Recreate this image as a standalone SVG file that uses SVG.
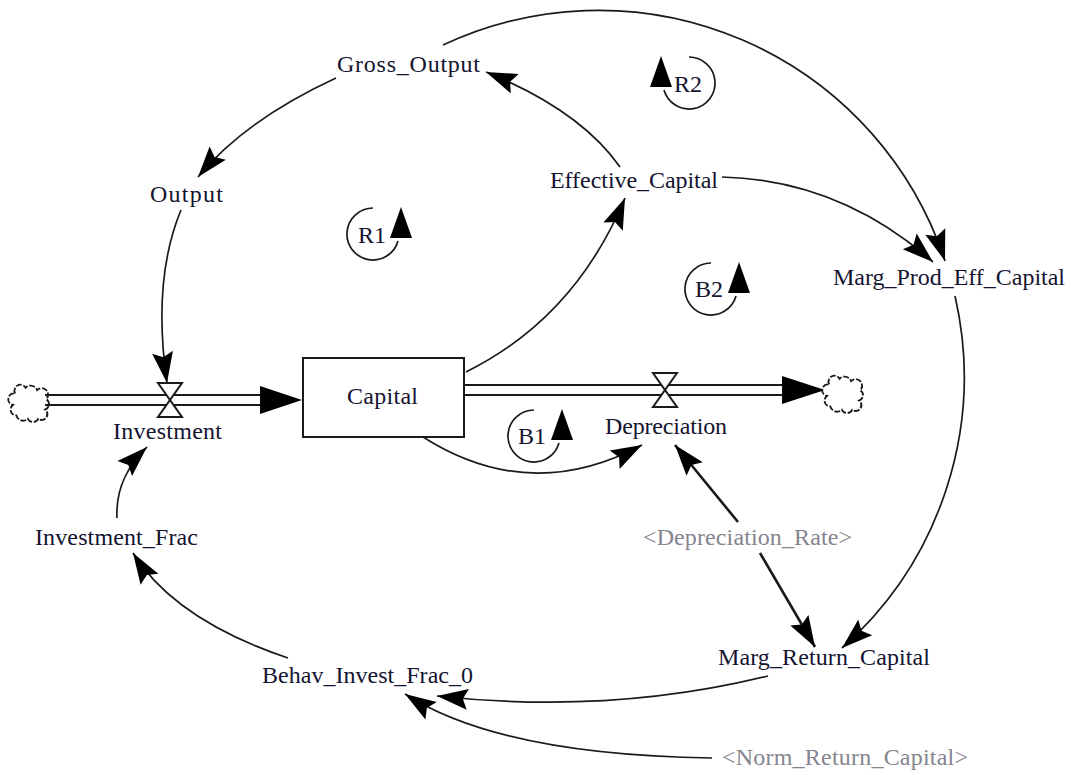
<svg xmlns="http://www.w3.org/2000/svg" width="1071" height="775" viewBox="0 0 1071 775">
<style>
  text { font-family: "Liberation Serif", "Times New Roman", serif; font-size: 24px; fill: #141430; }
  .shadow { fill: #85858f; }
  .link { fill: none; stroke: #1a1a1a; stroke-width: 1.7; }
  .bold { stroke-width: 2.6; }
  .pipe { fill: none; stroke: #1a1a1a; stroke-width: 2; }
  .valve { fill: #ffffff; stroke: #1a1a1a; stroke-width: 2; }
  .cloud { fill: #ffffff; stroke: #1a1a1a; stroke-width: 1.6; stroke-dasharray: 5 1.5; }
  .loop { fill: none; stroke: #1a1a1a; stroke-width: 1.7; }
  .head { fill: #000000; }
  .box { fill: #ffffff; stroke: #1a1a1a; stroke-width: 2; }
</style>
<defs>
  <marker id="arr" markerUnits="userSpaceOnUse" viewBox="-32 -12 34 24" markerWidth="34" markerHeight="24" refX="0" refY="0" orient="auto">
    <path d="M0,0 L-31,-10.5 L-26,0 L-31,10.5 Z" fill="#000"/>
  </marker>
  <path id="cloudShape" d="M -12,-10 a5,5 0 0 1 9,-5 a6,6 0 0 1 10,2 a5,5 0 0 1 8,8 a5,5 0 0 1 -1,9 a5,5 0 0 1 -6,8 a5,5 0 0 1 -9,0 a6,6 0 0 1 -10,-3 a5,5 0 0 1 -3,-9 a5,5 0 0 1 2,-10 z"/>
</defs>
<rect width="1071" height="775" fill="#ffffff"/>

<g id="connectors">
  <path class="link" d="M466,372 Q 575,318 625,198" marker-end="url(#arr)"/>
  <path class="link" d="M620,167 Q 580,110 486,72" marker-end="url(#arr)"/>
  <path class="link" d="M336,78 Q 245,120 198,177" marker-end="url(#arr)"/>
  <path class="link" d="M181,210 Q 152,280 167,383" marker-end="url(#arr)"/>
  <path class="link" d="M443,45 A 365 365 0 0 1 945,261" marker-end="url(#arr)"/>
  <path class="link" d="M722,177 Q 840,180 933,262" marker-end="url(#arr)"/>
  <path class="link" d="M955,296 A 362 362 0 0 1 842,648" marker-end="url(#arr)"/>
  <path class="link" d="M423,437 Q 530,505 642,445" marker-end="url(#arr)"/>
  <path class="link bold" d="M738,522 L 675,445" marker-end="url(#arr)"/>
  <path class="link bold" d="M760,553 L 815,647" marker-end="url(#arr)"/>
  <path class="link" d="M117,518 Q 115,478 147,447" marker-end="url(#arr)"/>
  <path class="link" d="M288,658 Q 175,620 133,553" marker-end="url(#arr)"/>
  <path class="link" d="M768,676 Q 610,715 437,696" marker-end="url(#arr)"/>
  <path class="link" d="M712,758 Q 500,755 405,694" marker-end="url(#arr)"/>
</g>

<g id="flow-investment">
  <use href="#cloudShape" class="cloud" transform="translate(29,405) scale(1.15)"/>
  <line class="pipe" x1="45" y1="395" x2="262" y2="395"/>
  <line class="pipe" x1="45" y1="405" x2="262" y2="405"/>
  <polygon class="head" points="302,400 260,386 260,414"/>
  <polygon class="valve" points="158,383 182,383 158,417 182,417"/>
  <text x="167.5" y="439" text-anchor="middle" textLength="109" lengthAdjust="spacing">Investment</text>
</g>

<g id="flow-depreciation">
  <line class="pipe" x1="464" y1="385" x2="784" y2="385"/>
  <line class="pipe" x1="464" y1="395" x2="784" y2="395"/>
  <polygon class="head" points="825,390 782,376 782,404"/>
  <polygon class="valve" points="653,373 677,373 653,407 677,407"/>
  <use href="#cloudShape" class="cloud" transform="translate(843,396) scale(1.15)"/>
  <text x="666" y="434" text-anchor="middle" textLength="122" lengthAdjust="spacing">Depreciation</text>
</g>

<g id="capital">
  <rect class="box" x="303" y="358" width="161" height="79"/>
  <text x="382.5" y="404" text-anchor="middle" textLength="71" lengthAdjust="spacing">Capital</text>
</g>

<g id="gross-output">
  <text x="408.5" y="72" text-anchor="middle" textLength="143" lengthAdjust="spacing">Gross_Output</text>
</g>
<g id="output">
  <text x="186.5" y="202" text-anchor="middle" textLength="73" lengthAdjust="spacing">Output</text>
</g>
<g id="effective-capital">
  <text x="634" y="188" text-anchor="middle" textLength="168" lengthAdjust="spacing">Effective_Capital</text>
</g>
<g id="marg-prod-eff-capital">
  <text x="949" y="285" text-anchor="middle" textLength="232" lengthAdjust="spacing">Marg_Prod_Eff_Capital</text>
</g>
<g id="depreciation-rate">
  <text class="shadow" x="747.5" y="545" text-anchor="middle" textLength="209" lengthAdjust="spacing">&lt;Depreciation_Rate&gt;</text>
</g>
<g id="marg-return-capital">
  <text x="824" y="665" text-anchor="middle" textLength="212" lengthAdjust="spacing">Marg_Return_Capital</text>
</g>
<g id="investment-frac">
  <text x="116.5" y="545" text-anchor="middle" textLength="163" lengthAdjust="spacing">Investment_Frac</text>
</g>
<g id="behav-invest-frac-0">
  <text x="367.5" y="683" text-anchor="middle" textLength="211" lengthAdjust="spacing">Behav_Invest_Frac_0</text>
</g>
<g id="norm-return-capital">
  <text class="shadow" x="845" y="765" text-anchor="middle" textLength="246" lengthAdjust="spacing">&lt;Norm_Return_Capital&gt;</text>
</g>

<g id="loop-R1" transform="translate(373,234)">
  <path class="loop" d="M 0,-26 A 26 26 0 1 0 25,7"/>
  <polygon class="head" points="28,-27 17,4 39,4"/>
  <text x="-1" y="9" text-anchor="middle">R1</text>
</g>
<g id="loop-R2" transform="translate(689,83)">
  <path class="loop" d="M 0,-26 A 26 26 0 1 1 -25,7"/>
  <polygon class="head" points="-28,-27 -39,4 -17,4"/>
  <text x="-1" y="9" text-anchor="middle">R2</text>
</g>
<g id="loop-B1" transform="translate(534,436)">
  <path class="loop" d="M 0,-26 A 26 26 0 1 0 25,7"/>
  <polygon class="head" points="28,-27 17,4 39,4"/>
  <text x="-2" y="8" text-anchor="middle">B1</text>
</g>
<g id="loop-B2" transform="translate(711,289)">
  <path class="loop" d="M 0,-26 A 26 26 0 1 0 25,7"/>
  <polygon class="head" points="28,-27 17,4 39,4"/>
  <text x="-2" y="8" text-anchor="middle">B2</text>
</g>
</svg>
